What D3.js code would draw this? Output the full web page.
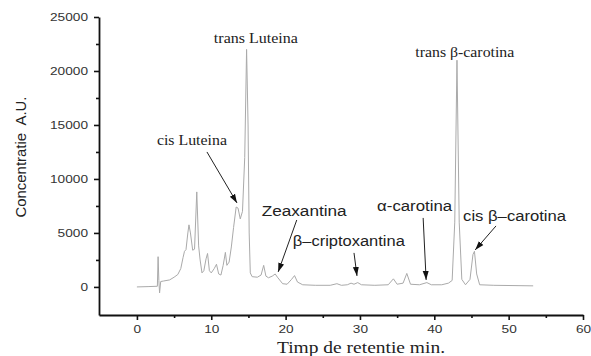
<!DOCTYPE html>
<html>
<head>
<meta charset="utf-8">
<script src="https://cdn.jsdelivr.net/npm/d3@7"></script>
<style>
  body { margin: 0; background: #fff; }
</style>
</head>
<body>
<script>
// retention time (min) and detector signal (A.U.)
const time = [
  0, 1.5, 2.75, 2.85, 2.95, 3.05, 3.2, 3.6, 4.4, 5.0, 5.5, 5.9, 6.2, 6.4, 6.6, 6.85, 7.0, 7.2, 7.5, 7.75,
  8.05, 8.3, 8.5, 8.75, 9.0, 9.3, 9.5, 9.75, 10.0, 10.4, 10.7, 11.0, 11.3, 11.6, 11.9, 12.1, 12.4, 12.7,
  13.0, 13.35, 13.6, 13.9, 14.2, 14.5, 14.75, 14.95, 15.1, 15.25, 15.5, 16.2, 16.7, 17.05, 17.35, 17.7,
  18.2, 18.6, 18.9, 19.6, 20.2, 20.8, 21.2, 21.6, 22.3, 24, 26, 26.9, 27.5, 28.3, 28.8, 29.2, 29.7, 30.2,
  32, 33.8, 34.5, 35, 35.8, 36.3, 36.8, 38, 39.0, 39.6, 41, 41.9, 42.4, 42.75, 43.05, 43.35, 43.7, 44.2,
  44.8, 45.2, 45.4, 45.7, 46.1, 48, 53.3
];
const signal = [
  0, 30, 60, 2800, 600, -550, 500, 550, 650, 900, 1150, 1700, 2700, 3300, 3450, 5000, 5750, 5000, 3400, 3500,
  8800, 3800, 2500, 1300, 1500, 2600, 3100, 1500, 1300, 1700, 2100, 1200, 1100, 2000, 3200, 2000, 2300, 3700,
  5500, 7400, 7300, 6300, 7000, 12000, 22000, 15000, 5000, 1300, 950, 900, 1100, 2000, 1000, 850,
  1000, 1200, 900, 300, 250, 700, 1050, 450, 200, 150, 150, 300, 150, 200, 350, 250, 400, 200,
  150, 200, 750, 250, 350, 1250, 250, 200, 400, 200, 200, 350, 600, 6000, 21000, 6000, 700, 200,
  700, 3000, 3300, 1200, 200, 150, 100
];

const xTicks = [0, 10, 20, 30, 40, 50, 60];
const xMinorTicks = [5, 15, 25, 35, 45, 55];
const yTicks = [0, 5000, 10000, 15000, 20000, 25000];
const yMinorTicks = [2500, 7500, 12500, 17500, 22500];

// peak names
const peakNames = ["trans Luteina", "cis Luteina", "Zeaxantina", "\u03b2\u2013criptoxantina",
  "\u03b1-carotina", "trans \u03b2-carotina", "cis \u03b2\u2013carotina"];

// label layout, in data units (centre of baseline) and pixel widths
const labelLayout = [
  { t: 16.0, v: 22600, w: 84, serif: true },
  { t: 7.4, v: 13150, w: 70, serif: true },
  { t: 22.5, v: 6575, w: 85, serif: false },
  { t: 28.5, v: 3800, w: 112, serif: false },
  { t: 37.35, v: 7040, w: 75, serif: false },
  { t: 44.1, v: 21300, w: 99, serif: true },
  { t: 50.8, v: 6110, w: 103, serif: false }
];
// arrows: [t0, v0, t1, v1] (tail -> tip), null where no arrow
const arrowLayout = [
  null,
  [9.42, 12500, 13.46, 7780],
  [21.5, 6200, 19.0, 1390],
  [29.2, 3150, 29.6, 1020],
  [38.5, 6390, 38.9, 650],
  null,
  [48.3, 5650, 45.5, 3430]
];

const width = 591, height = 356;
const sans = "'Liberation Sans', Arial, sans-serif";
const serif = "'Liberation Serif', 'Times New Roman', serif";

const x = d3.scaleLinear().domain([-5.1, 60]).range([99, 583]);
const y = d3.scaleLinear().domain([-2600, 25000]).range([315, 17]);

const svg = d3.select("body").append("svg")
  .attr("width", width)
  .attr("height", height);

const defs = svg.append("defs");
defs.append("marker")
  .attr("id", "arrowhead")
  .attr("markerUnits", "userSpaceOnUse")
  .attr("markerWidth", 10)
  .attr("markerHeight", 8)
  .attr("viewBox", "0 -4 10 8")
  .attr("refX", 9)
  .attr("refY", 0)
  .attr("orient", "auto")
  .append("path")
  .attr("d", "M0,-3L9,0L0,3Z")
  .attr("fill", "#111");

// trace
const points = time.map((t, i) => [t, signal[i]]);
svg.append("path")
  .datum(points)
  .attr("fill", "none")
  .attr("stroke", "#aaa")
  .attr("stroke-width", 1)
  .attr("d", d3.line().x(d => x(d[0])).y(d => y(d[1])));

// x axis
const xAxis = svg.append("g")
  .attr("transform", `translate(0,${y(-2600)})`)
  .call(d3.axisBottom(x).tickValues(xTicks).tickFormat(d3.format("d"))
    .tickSize(5).tickPadding(6).tickSizeOuter(0));
xAxis.append("g")
  .call(d3.axisBottom(x).tickValues(xMinorTicks).tickSize(3).tickFormat(""))
  .call(g => g.select(".domain").remove());

// y axis
const yAxis = svg.append("g")
  .attr("transform", `translate(${x(-5.1)},0)`)
  .call(d3.axisLeft(y).tickValues(yTicks).tickFormat(d3.format("d"))
    .tickSize(5).tickPadding(6).tickSizeOuter(0));
yAxis.append("g")
  .call(d3.axisLeft(y).tickValues(yMinorTicks).tickSize(3).tickFormat(""))
  .call(g => g.select(".domain").remove());

svg.selectAll(".domain").attr("stroke", "#111").attr("stroke-width", 1.8);
svg.selectAll(".tick line").attr("stroke", "#111").attr("stroke-width", 1.6);
svg.selectAll(".tick text")
  .attr("font-family", sans)
  .attr("font-size", 10.5)
  .attr("fill", "#333")
  .attr("lengthAdjust", "spacingAndGlyphs")
  .attr("textLength", function () { return this.textContent.length * 7.6; });

// axis titles
svg.append("text")
  .attr("transform", "translate(26,157) rotate(-90)")
  .attr("text-anchor", "middle")
  .attr("font-family", sans)
  .attr("font-size", 14)
  .attr("fill", "#222")
  .attr("textLength", 121)
  .attr("lengthAdjust", "spacingAndGlyphs")
  .attr("xml:space", "preserve")
  .text("Concentratie  A.U.");

svg.append("text")
  .attr("x", 361)
  .attr("y", 353)
  .attr("text-anchor", "middle")
  .attr("font-family", serif)
  .attr("font-size", 16)
  .attr("fill", "#222")
  .attr("textLength", 168)
  .attr("lengthAdjust", "spacingAndGlyphs")
  .text("Timp de retentie min.");

// peak labels
const labels = svg.append("g");
peakNames.forEach((name, i) => {
  const L = labelLayout[i];
  labels.append("text")
    .attr("x", x(L.t))
    .attr("y", y(L.v))
    .attr("text-anchor", "middle")
    .attr("font-family", L.serif ? serif : sans)
    .attr("font-size", L.serif ? 15 : 14)
    .attr("fill", "#222")
    .attr("textLength", L.w)
    .attr("lengthAdjust", "spacingAndGlyphs")
    .text(name);
  const A = arrowLayout[i];
  if (A) {
    labels.append("line")
      .attr("x1", x(A[0])).attr("y1", y(A[1]))
      .attr("x2", x(A[2])).attr("y2", y(A[3]))
      .attr("stroke", "#222")
      .attr("stroke-width", 1)
      .attr("marker-end", "url(#arrowhead)");
  }
});
</script>
</body>
</html>
